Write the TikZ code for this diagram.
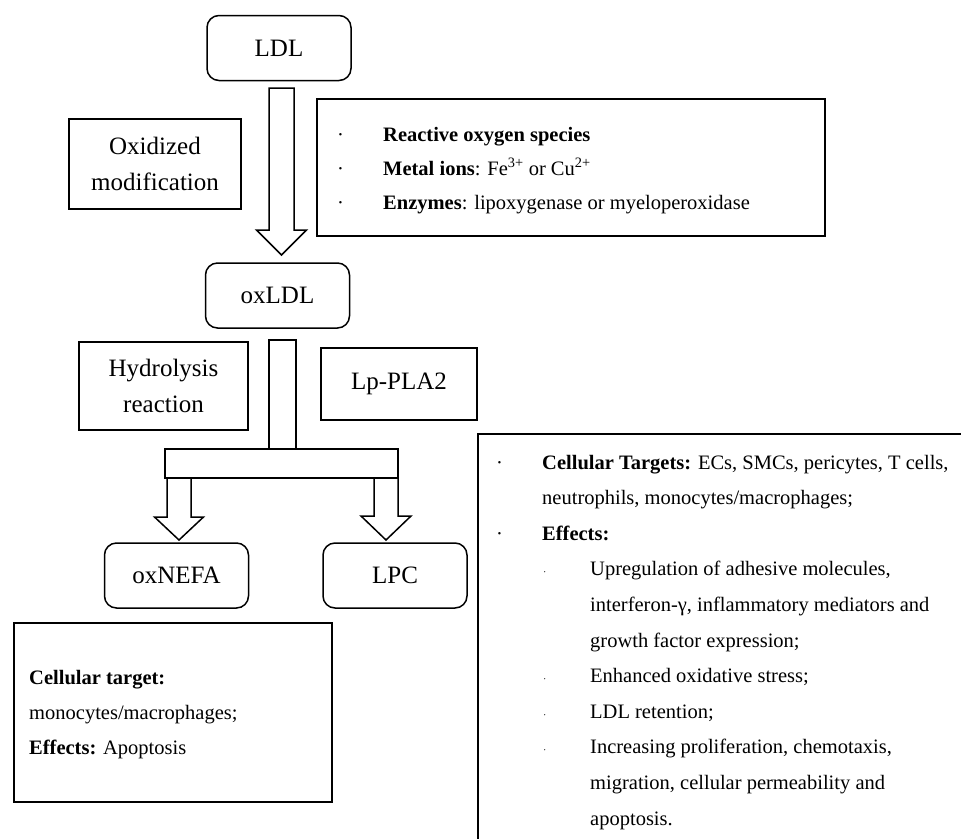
\documentclass[tikz,border=0pt]{standalone}
\usepackage{fontspec}
\setmainfont{Liberation Serif}
\usetikzlibrary{positioning,calc}
\tikzset{
  stage/.style={draw=black,line width=1.5pt,rounded corners=12pt,minimum width=144pt,minimum height=65pt,font=\fontsize{25}{36}\selectfont},
  process/.style={draw=black,line width=1.5pt,align=center,font=\fontsize{25}{36}\selectfont},
  infobox/.style={draw=black,line width=1.5pt},
  infotext/.style={anchor=base west,align=left,inner sep=0pt,font=\fontsize{20.5}{35.6}\selectfont},
  hollow/.style={draw=black,line width=1.5pt,fill=white,line join=miter},
}
\newcommand{\bul}{\llap{\makebox[46pt][l]{\textperiodcentered}}}
\newcommand{\subbul}{\llap{\makebox[47pt][l]{\fontsize{10}{10}\selectfont\textperiodcentered}}}
% x, top, head start, tip, shaft half width, head half width
\newcommand{\downblock}[6]{\draw[hollow] (#1-#5,#2) -- (#1+#5,#2) -- (#1+#5,#3) -- (#1+#6,#3) -- (#1,#4) -- (#1-#6,#3) -- (#1-#5,#3) -- cycle;}

\begin{document}
\begin{tikzpicture}[x=1pt,y=-1pt]
\useasboundingbox (0,0) rectangle (961,838);
\clip (0,0) rectangle (961,838);
\fill[white] (0,0) rectangle (961,838);
% stages
\node[stage] (LDL) at (279,48) {LDL};
\node[stage] (oxLDL) at (277.5,295.5) {oxLDL};
\node[stage] (oxNEFA) at (176.5,575.5) {oxNEFA};
\node[stage] (LPC) at (395,575.5) {LPC};
% processes
\node[process,minimum width=172pt,minimum height=90pt] (oxmod) at (155,164) {Oxidized\\modification};
\node[process,minimum width=169pt,minimum height=88pt] (hydro) at (163.5,386) {Hydrolysis\\reaction};
\node[process,minimum width=156pt,minimum height=72pt] (lppla) at (399,384) {Lp-PLA2};
% arrows
\downblock{281.5}{88}{230}{255}{12.5}{25}
\draw[hollow] (269,340) rectangle (296,449);
\draw[hollow] (165,449) rectangle (398,478);
\downblock{179}{478}{517}{540}{12}{24.5}
\downblock{386}{478}{516}{540}{12}{25}
% info boxes (texts anchored at the baseline of their last line)
\node[infobox,minimum width=508pt,minimum height=137pt] (agents) at (571,167.5) {};
\node[infobox,minimum width=318pt,minimum height=179pt] (nefafx) at (173,712.5) {};
\node[infobox,anchor=north west,minimum width=540pt,minimum height=450pt] (lpcfx) at (477,433) {};
\node[infotext,font=\fontsize{20.5}{34}\selectfont] (agentstxt) at (383,209) {\bul\textbf{Reactive oxygen species}\\
\bul\textbf{Metal ions}: Fe\textsuperscript{3+} or Cu\textsuperscript{2+}\\
\bul\textbf{Enzymes}: lipoxygenase or myeloperoxidase};
\node[infotext,font=\fontsize{20.5}{35}\selectfont] (nefatxt) at (29,754) {\textbf{Cellular target:}\\
monocytes/macrophages;\\
\textbf{Effects:} Apoptosis};
\node[infotext] (lpctxt) at (542,825) {\bul\textbf{Cellular Targets:} ECs, SMCs, pericytes, T cells,\\
neutrophils, monocytes/macrophages;\\
\bul\textbf{Effects:}\\
\hspace*{48pt}\subbul Upregulation of adhesive molecules,\\
\hspace*{48pt}interferon-γ, inflammatory mediators and\\
\hspace*{48pt}growth factor expression;\\
\hspace*{48pt}\subbul Enhanced oxidative stress;\\
\hspace*{48pt}\subbul LDL retention;\\
\hspace*{48pt}\subbul Increasing proliferation, chemotaxis,\\
\hspace*{48pt}migration, cellular permeability and\\
\hspace*{48pt}apoptosis.};
\end{tikzpicture}
\end{document}
